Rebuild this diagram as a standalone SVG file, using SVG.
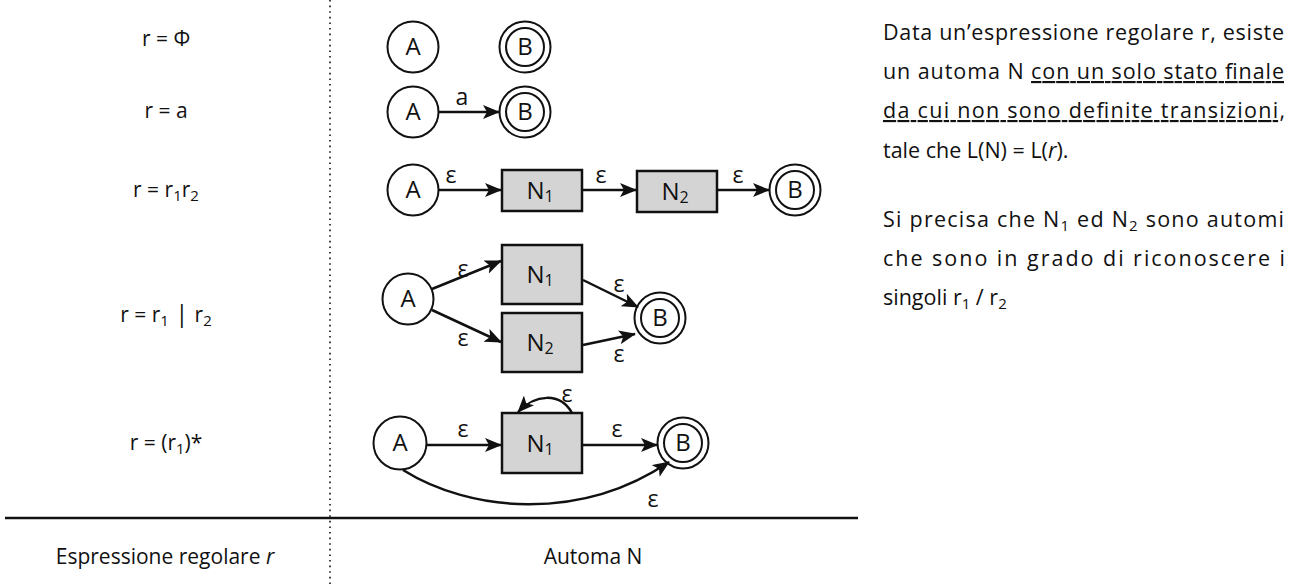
<svg xmlns="http://www.w3.org/2000/svg" width="1293" height="587" viewBox="0 0 1293 587">
<style>
text{font-family:"Open Sans","Noto Sans","Liberation Sans",sans-serif;fill:#111}
.lbl{font-size:21px;text-anchor:middle}
.node{font-size:24px;text-anchor:middle}
.eps{font-size:23px;text-anchor:middle}
.st{fill:#fff;stroke:#111;stroke-width:2}
.box{fill:#d4d4d4;stroke:#111;stroke-width:2.5}
.edge{fill:none;stroke:#111;stroke-width:2.5;marker-end:url(#ah)}
.para{font-size:21.5px}
.u{text-decoration:underline}
</style>
<defs>
<marker id="ah" markerWidth="17" markerHeight="14" refX="16" refY="7" orient="auto" markerUnits="userSpaceOnUse">
<path d="M0,0 L17,7 L0,14 L4,7 z" fill="#111"/>
</marker>
</defs>
<rect width="1293" height="587" fill="#fff"/>
<g id="table">
<line x1="330" y1="0" x2="330" y2="587" stroke="#111" stroke-width="1.6" stroke-dasharray="1.6,4"/>
<line x1="5" y1="518" x2="858" y2="518" stroke="#111" stroke-width="2.5"/>
<text class="lbl" x="165" y="564">Espressione regolare <tspan font-style="italic">r</tspan></text>
<text class="lbl" x="593" y="564">Automa N</text>
</g>
<g id="labels">
<text class="lbl" x="166" y="46">r = Φ</text>
<text class="lbl" x="166" y="118">r = a</text>
<text class="lbl" x="166" y="197">r = r<tspan font-size="15" dy="4">1</tspan><tspan dy="-4">r</tspan><tspan font-size="15" dy="4">2</tspan></text>
<text class="lbl" x="166" y="322">r = r<tspan font-size="15" dy="4">1</tspan><tspan dy="-4" font-size="24"> | </tspan><tspan>r</tspan><tspan font-size="15" dy="4">2</tspan></text>
<text class="lbl" x="166" y="450">r = (r<tspan font-size="15" dy="4">1</tspan><tspan dy="-4">)*</tspan></text>
</g>
<g id="row1">
<g id="r1A"><circle class="st" cx="413" cy="47" r="25.5"/><text class="node" x="413" y="55">A</text></g>
<g id="r1B"><circle class="st" cx="525" cy="47" r="25.5"/><circle class="st" cx="525" cy="47" r="19"/><text class="node" x="525" y="55">B</text></g>
</g>
<g id="row2">
<g id="r2A"><circle class="st" cx="413" cy="112" r="25.5"/><text class="node" x="413" y="120">A</text></g>
<g id="r2B"><circle class="st" cx="525" cy="112" r="25.5"/><circle class="st" cx="525" cy="112" r="19"/><text class="node" x="525" y="120">B</text></g>
</g>
<g id="row3">
<g id="r3A"><circle class="st" cx="413" cy="190" r="25.5"/><text class="node" x="413" y="198">A</text></g>
<g id="r3N1"><rect class="box" x="502" y="170" width="80" height="41"/><text class="node" x="540" y="199">N<tspan font-size="16" dy="3">1</tspan></text></g>
<g id="r3N2"><rect class="box" x="637" y="171" width="80" height="41"/><text class="node" x="675" y="200">N<tspan font-size="16" dy="3">2</tspan></text></g>
<g id="r3B"><circle class="st" cx="795" cy="190" r="25.5"/><circle class="st" cx="795" cy="190" r="19"/><text class="node" x="795" y="198">B</text></g>
</g>
<g id="row4">
<g id="r4A"><circle class="st" cx="408" cy="299" r="25.5"/><text class="node" x="408" y="307">A</text></g>
<g id="r4N1"><rect class="box" x="502" y="245" width="80" height="59"/><text class="node" x="540" y="283">N<tspan font-size="16" dy="3">1</tspan></text></g>
<g id="r4N2"><rect class="box" x="502" y="313" width="80" height="59"/><text class="node" x="540" y="351">N<tspan font-size="16" dy="3">2</tspan></text></g>
<g id="r4B"><circle class="st" cx="660" cy="318" r="25.5"/><circle class="st" cx="660" cy="318" r="19"/><text class="node" x="660" y="326">B</text></g>
</g>
<g id="row5">
<g id="r5A"><circle class="st" cx="400" cy="443" r="26.5"/><text class="node" x="400" y="451">A</text></g>
<g id="r5N1"><rect class="box" x="502" y="413" width="80" height="60"/><text class="node" x="540" y="452">N<tspan font-size="16" dy="3">1</tspan></text></g>
<g id="r5B"><circle class="st" cx="683" cy="443" r="25.5"/><circle class="st" cx="683" cy="443" r="19"/><text class="node" x="683" y="451">B</text></g>
</g>
<g id="connectors">
<line class="edge" x1="439" y1="112" x2="499" y2="112"/>
<text class="eps" x="462" y="105">a</text>
<line class="edge" x1="439" y1="190" x2="501" y2="190"/>
<text class="eps" x="451" y="183">ε</text>
<line class="edge" x1="583" y1="190" x2="636" y2="190"/>
<text class="eps" x="601" y="183">ε</text>
<line class="edge" x1="718" y1="190" x2="769" y2="190"/>
<text class="eps" x="738" y="183">ε</text>
<line class="edge" x1="432" y1="289" x2="501" y2="261"/>
<text class="eps" x="463" y="277">ε</text>
<line class="edge" x1="432" y1="310" x2="501" y2="342"/>
<text class="eps" x="463" y="346">ε</text>
<line class="edge" x1="583" y1="280" x2="638" y2="307"/>
<text class="eps" x="619" y="292">ε</text>
<line class="edge" x1="583" y1="345" x2="635" y2="334"/>
<text class="eps" x="619" y="362">ε</text>
<path class="edge" d="M572,413 C560,392 535,394 518,412"/>
<text class="eps" x="567" y="402">ε</text>
<line class="edge" x1="427" y1="445" x2="501" y2="445"/>
<text class="eps" x="463" y="437">ε</text>
<line class="edge" x1="583" y1="445" x2="657" y2="445"/>
<text class="eps" x="617" y="437">ε</text>
<path class="edge" d="M403,470 C470,512 580,522 669,462"/>
<text class="eps" x="653" y="507">ε</text>
</g>
<g id="description">
<text class="para" x="883" y="40" textLength="401" lengthAdjust="spacing">Data un’espressione regolare r, esiste</text>
<text class="para" x="883" y="79" textLength="401" lengthAdjust="spacing">un automa N <tspan class="u">con un solo stato finale</tspan></text>
<text class="para" x="883" y="118" textLength="402" lengthAdjust="spacing"><tspan class="u">da cui non sono definite transizioni</tspan>,</text>
<text class="para" x="883" y="158">tale che L(N) = L(<tspan font-style="italic">r</tspan>).</text>
<text class="para" x="883" y="227" textLength="401" lengthAdjust="spacing">Si precisa che N<tspan font-size="15" dy="4">1</tspan><tspan dy="-4"> ed N</tspan><tspan font-size="15" dy="4">2</tspan><tspan dy="-4"> sono automi</tspan></text>
<text class="para" x="883" y="266" textLength="402" lengthAdjust="spacing">che sono in grado di riconoscere i</text>
<text class="para" x="883" y="305">singoli r<tspan font-size="15" dy="4">1</tspan><tspan dy="-4"> / r</tspan><tspan font-size="15" dy="4">2</tspan></text>
</g>
</svg>
